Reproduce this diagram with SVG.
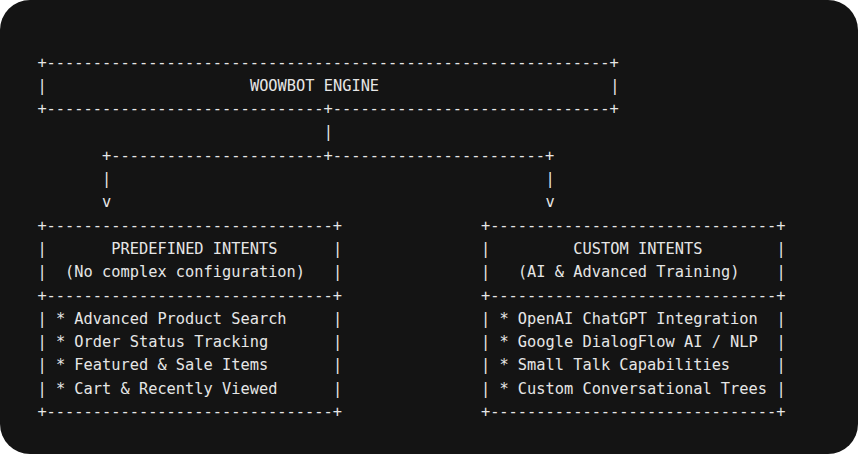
<svg xmlns="http://www.w3.org/2000/svg" width="858" height="454" viewBox="0 0 858 454">
<style>
text{font-family:"DejaVu Sans Mono","Liberation Mono",monospace;font-size:15.34px;fill:#e6e6e6;white-space:pre}
</style>
<rect x="0" y="0" width="858" height="454" fill="#ffffff"/>
<rect x="0" y="0" width="858" height="454" rx="30" fill="#141414"/>
<g id="engine">
<text x="37.4" y="67.5">+-------------------------------------------------------------+</text>
<text x="37.4" y="90.8">|</text>
<text x="249.92" y="90.8">WOOWBOT ENGINE</text>
<text x="610.28" y="90.8">|</text>
<text x="37.4" y="114.1">+------------------------------+------------------------------+</text>
</g>
<g id="connectors">
<text x="323.84" y="137.4">|</text>
<text x="102.08" y="160.7">+-----------------------+-----------------------+</text>
<text x="102.08" y="184">|</text>
<text x="545.6" y="184">|</text>
<text x="102.08" y="207.3">v</text>
<text x="545.6" y="207.3">v</text>
</g>
<g id="predefined">
<text x="37.4" y="230.6">+-------------------------------+</text>
<text x="37.4" y="253.9">|</text><text x="111.32" y="253.9">PREDEFINED INTENTS</text><text x="333.08" y="253.9">|</text>
<text x="37.4" y="277.2">|</text><text x="65.12" y="277.2">(No complex configuration)</text><text x="333.08" y="277.2">|</text>
<text x="37.4" y="300.5">+-------------------------------+</text>
<text x="37.4" y="323.8">|</text><text x="55.88" y="323.8">* Advanced Product Search</text><text x="333.08" y="323.8">|</text>
<text x="37.4" y="347.1">|</text><text x="55.88" y="347.1">* Order Status Tracking</text><text x="333.08" y="347.1">|</text>
<text x="37.4" y="370.4">|</text><text x="55.88" y="370.4">* Featured &amp; Sale Items</text><text x="333.08" y="370.4">|</text>
<text x="37.4" y="393.7">|</text><text x="55.88" y="393.7">* Cart &amp; Recently Viewed</text><text x="333.08" y="393.7">|</text>
<text x="37.4" y="417">+-------------------------------+</text>
</g>
<g id="custom">
<text x="480.92" y="230.6">+-------------------------------+</text>
<text x="480.92" y="253.9">|</text><text x="573.32" y="253.9">CUSTOM INTENTS</text><text x="776.6" y="253.9">|</text>
<text x="480.92" y="277.2">|</text><text x="517.88" y="277.2">(AI &amp; Advanced Training)</text><text x="776.6" y="277.2">|</text>
<text x="480.92" y="300.5">+-------------------------------+</text>
<text x="480.92" y="323.8">|</text><text x="499.4" y="323.8">* OpenAI ChatGPT Integration</text><text x="776.6" y="323.8">|</text>
<text x="480.92" y="347.1">|</text><text x="499.4" y="347.1">* Google DialogFlow AI / NLP</text><text x="776.6" y="347.1">|</text>
<text x="480.92" y="370.4">|</text><text x="499.4" y="370.4">* Small Talk Capabilities</text><text x="776.6" y="370.4">|</text>
<text x="480.92" y="393.7">|</text><text x="499.4" y="393.7">* Custom Conversational Trees</text><text x="776.6" y="393.7">|</text>
<text x="480.92" y="417">+-------------------------------+</text>
</g>
</svg>
